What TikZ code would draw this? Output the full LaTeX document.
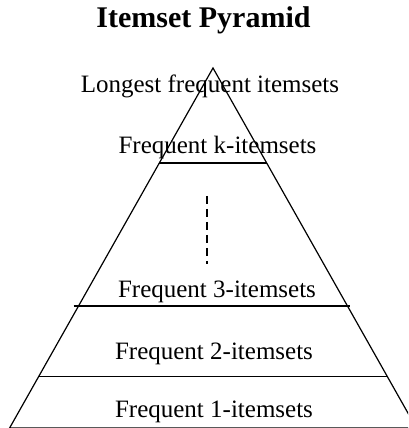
\documentclass[tikz,border=0pt]{standalone}
\usepackage{fontspec}
\setmainfont{Liberation Serif}
\usepackage{tikz}
\usetikzlibrary{calc,positioning}
\tikzset{
  edge/.style={draw=black, line width=1.2pt},
  lvl/.style={anchor=base, inner sep=0pt, font=\fontsize{25}{30}\selectfont},
  ttl/.style={anchor=base, inner sep=0pt, font=\fontsize{30}{36}\selectfont\bfseries},
  gap/.style={draw=black, line width=1.3pt, dash pattern=on 8pt off 5pt},
}

\begin{document}
\begin{tikzpicture}[x=1pt, y=1pt]
\useasboundingbox (0,0) rectangle (408,428);
\clip (0,0) rectangle (408,428);

% Pyramid outline
\coordinate (apex) at (213,360);
\coordinate (baseL) at (9.6,0);
\coordinate (baseR) at (416.4,0);
\draw[edge] (baseL) -- (apex) -- (baseR) -- cycle;

% Level lines
\coordinate (kL) at ($(apex)!0.264!(baseL)$);
\coordinate (kR) at ($(apex)!0.264!(baseR)$);
\coordinate (tL) at ([xshift=-5pt]$(apex)!0.661!(baseL)$);
\coordinate (tR) at ([xshift=3pt]$(apex)!0.661!(baseR)$);
\coordinate (wL) at ($(apex)!0.858!(baseL)$);
\coordinate (wR) at ($(apex)!0.858!(baseR)$);
\draw[edge] (kL) -- (kR);
\draw[edge] (tL) -- (tR);
\draw[edge] (wL) -- (wR);

% Dots between k and 3
\coordinate (gapTop) at (207,232);
\coordinate (gapBot) at (207,164);
\draw[gap] (gapTop) -- (gapBot);

% Labels
\node[ttl] (title) at (203.5,400) {Itemset Pyramid};
\node[lvl] (longest) at (210,335.5) {Longest frequent itemsets};
\node[lvl] (freqk) at (217.5,274) {Frequent k-itemsets};
\node[lvl] (freq3) at (217,130.5) {Frequent 3-itemsets};
\node[lvl] (freq2) at (214,68) {Frequent 2-itemsets};
\node[lvl] (freq1) at (214,10) {Frequent 1-itemsets};

\end{tikzpicture}
\end{document}
